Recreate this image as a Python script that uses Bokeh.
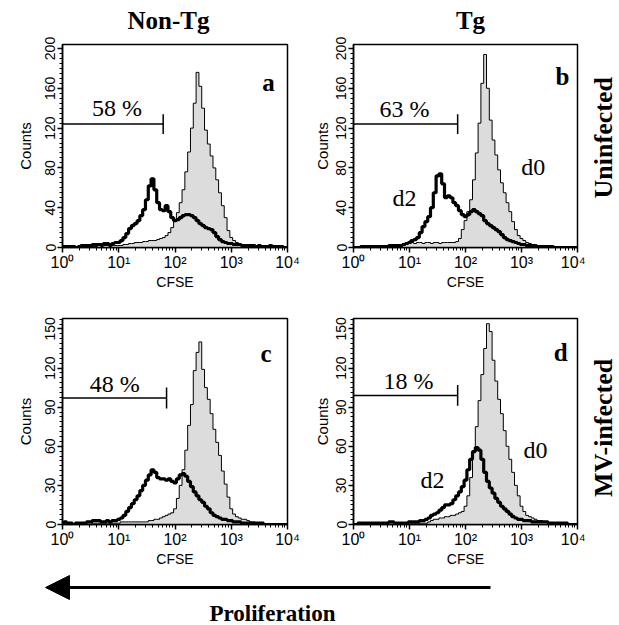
import numpy as np
from bokeh.plotting import figure
from bokeh.models import Range1d, FixedTicker, Label, Arrow, NormalHead
from bokeh.layouts import column, row
from bokeh.embed import file_html
from bokeh.resources import INLINE

# ---------------- data ----------------
# log10(CFSE) channel centres
log_cfse = [0.00, 0.05, 0.10, 0.15, 0.20, 0.25, 0.30, 0.35, 0.40, 0.45,
            0.50, 0.55, 0.60, 0.65, 0.70, 0.75, 0.80, 0.85, 0.90, 0.95,
            1.00, 1.05, 1.10, 1.15, 1.20, 1.25, 1.30, 1.35, 1.40, 1.45,
            1.50, 1.55, 1.60, 1.65, 1.70, 1.75, 1.80, 1.85, 1.90, 1.95,
            2.00, 2.05, 2.10, 2.15, 2.20, 2.25, 2.30, 2.35, 2.40, 2.45,
            2.50, 2.55, 2.60, 2.65, 2.70, 2.75, 2.80, 2.85, 2.90, 2.95,
            3.00, 3.05, 3.10, 3.15, 3.20, 3.25, 3.30, 3.35, 3.40, 3.45,
            3.50, 3.55, 3.60, 3.65, 3.70, 3.75, 3.80, 3.85, 3.90, 3.95,
            4.00]

# panel a: Non-Tg, uninfected
a_d0 = [0, 0, 0, 0, 0, 0, 0, 0, 0, 1,
        1, 1, 1, 2, 1, 2, 2, 1, 2, 2,
        2, 2, 3, 3, 4, 4, 5, 5, 5, 6,
        6, 7, 7, 7, 8, 9, 10, 12, 15, 20,
        27, 35, 45, 58, 76, 96, 120, 145, 176, 162,
        140, 118, 104, 92, 80, 68, 55, 42, 30, 17,
        10, 7, 5, 4, 3, 2, 2, 1, 1, 1,
        0, 0, 0, 0, 0, 0, 0, 0, 0, 0,
        0]
a_d2 = [1, 1, 1, 1, 1, 0, 1, 2, 2, 2,
        2, 3, 3, 3, 3, 4, 4, 3, 4, 5,
        5, 7, 10, 14, 19, 22, 24, 27, 32, 38,
        48, 62, 69, 58, 45, 38, 37, 42, 36, 30,
        27, 28, 30, 32, 33, 33, 32, 30, 27, 24,
        22, 20, 19, 18, 15, 11, 8, 6, 5, 4,
        4, 3, 3, 3, 2, 2, 2, 2, 2, 1,
        2, 1, 1, 1, 2, 1, 1, 1, 1, 0,
        0]

# panel b: Tg, uninfected
b_d0 = [0, 0, 0, 0, 0, 0, 0, 0, 0, 0,
        0, 0, 0, 1, 2, 2, 2, 2, 4, 4,
        4, 5, 4, 5, 5, 4, 5, 5, 4, 5,
        5, 4, 5, 5, 5, 5, 5, 6, 9, 18,
        27, 36, 48, 68, 95, 125, 165, 194, 160, 128,
        108, 93, 78, 65, 55, 45, 36, 26, 18, 12,
        9, 7, 5, 4, 3, 3, 2, 2, 1, 1,
        0, 0, 0, 0, 0, 0, 0, 0, 0, 0,
        0]
b_d2 = [0, 0, 0, 1, 1, 1, 1, 1, 1, 1,
        1, 1, 1, 2, 2, 2, 2, 2, 3, 4,
        5, 7, 8, 10, 15, 21, 26, 31, 40, 55,
        72, 74, 64, 50, 52, 50, 45, 42, 37, 33,
        31, 33, 36, 38, 36, 34, 32, 27, 24, 22,
        20, 18, 16, 13, 10, 8, 7, 6, 5, 4,
        3, 3, 2, 2, 2, 1, 1, 1, 1, 1,
        1, 1, 0, 0, 0, 0, 0, 0, 0, 0,
        0]

# panel c: Non-Tg, MV-infected
c_d0 = [0, 0, 0, 0, 0, 0, 0, 0, 0, 0,
        0, 1, 1, 1, 1, 1, 1, 1, 1, 1,
        1, 2, 2, 2, 2, 2, 2, 2, 2, 2,
        2, 3, 3, 4, 4, 5, 6, 7, 8, 9,
        12, 20, 30, 42, 57, 76, 92, 118, 132, 140,
        119, 105, 96, 85, 73, 63, 53, 41, 31, 21,
        12, 8, 6, 5, 4, 4, 3, 2, 2, 1,
        1, 0, 0, 0, 0, 0, 0, 0, 0, 0,
        0]
c_d2 = [1, 2, 1, 1, 0, 1, 1, 1, 1, 2,
        2, 3, 3, 3, 2, 2, 3, 2, 3, 3,
        4, 5, 7, 10, 13, 16, 19, 22, 26, 30,
        34, 38, 42, 40, 36, 35, 35, 34, 35, 33,
        32, 35, 38, 39, 37, 33, 29, 25, 22, 19,
        17, 14, 12, 9, 7, 6, 5, 4, 4, 3,
        3, 2, 2, 2, 1, 1, 1, 1, 1, 1,
        1, 1, 0, 0, 0, 0, 0, 0, 0, 0,
        0]

# panel d: Tg, MV-infected
d_d0 = [0, 0, 0, 0, 0, 0, 0, 0, 0, 0,
        0, 0, 0, 0, 0, 0, 0, 1, 1, 1,
        1, 1, 1, 1, 1, 1, 1, 2, 3, 4,
        4, 5, 5, 6, 6, 7, 7, 8, 9, 10,
        14, 22, 36, 55, 75, 95, 115, 135, 154, 148,
        126, 110, 96, 85, 72, 60, 50, 40, 30, 22,
        14, 10, 7, 6, 5, 4, 3, 3, 2, 2,
        1, 1, 0, 0, 0, 0, 0, 0, 0, 0,
        0]
d_d2 = [0, 0, 1, 1, 1, 1, 1, 1, 1, 1,
        1, 1, 1, 2, 2, 1, 1, 1, 1, 1,
        2, 2, 2, 2, 3, 3, 4, 5, 7, 8,
        9, 11, 13, 15, 15, 16, 19, 22, 25, 29,
        34, 42, 50, 56, 59, 57, 50, 40, 33, 28,
        24, 20, 17, 14, 12, 10, 8, 6, 5, 4,
        4, 3, 3, 3, 2, 2, 2, 2, 2, 2,
        1, 1, 1, 1, 1, 1, 1, 0, 0, 0,
        0]

panel_letters = ["a", "b", "c", "d"]
gate_text = ["58 %", "63 %", "48 %", "18 %"]
gate_level = [124, 124, 97, 99]
gate_end_log = [1.79, 1.86, 1.85, 1.86]
column_titles = ["Non-Tg", "Tg"]
row_titles = ["Uninfected", "MV-infected"]
x_tick_labels = ["10\u2070", "10\u00b9", "10\u00b2", "10\u00b3", "10\u2074"]
top_yticks = [0, 40, 80, 120, 160, 200]
bottom_yticks = [0, 30, 60, 90, 120, 150]

SANS = "Liberation Sans"
SERIF = "Liberation Serif"

x_vals = 10 ** np.array(log_cfse)


def blank_fig(w, h):
    f = figure(width=w, height=h, x_range=Range1d(0, w), y_range=Range1d(0, h),
               output_backend="svg", toolbar_location=None, min_border=0)
    f.axis.visible = False
    f.grid.visible = False
    f.outline_line_color = None
    f.background_fill_color = "white"
    f.border_fill_color = "white"
    return f


def make_panel(d0, d2, ymax, yticks, width, height, bl, br, bt, bb, ylab_standoff):
    p = figure(width=width, height=height, x_axis_type="log",
               x_range=Range1d(1, 1e4), y_range=Range1d(0, ymax),
               output_backend="svg", toolbar_location=None,
               min_border_left=bl, min_border_right=br,
               min_border_top=bt, min_border_bottom=bb)
    p.grid.visible = False
    p.outline_line_color = "black"
    p.outline_line_width = 1.5
    p.outline_line_alpha = 1
    p.background_fill_color = "white"
    p.border_fill_color = "white"

    p.varea_step(x=x_vals, y1=np.zeros(len(x_vals)), y2=d0, step_mode="center",
                 fill_color="#dcdcdc")
    p.step(x_vals, d0, mode="center", line_color="black", line_width=1)
    p.step(x_vals, d2, mode="center", line_color="black", line_width=3.2)

    major = [1, 10, 100, 1000, 10000]
    minor = [k * 10 ** n for n in range(4) for k in range(2, 10)]
    p.xaxis.ticker = FixedTicker(ticks=major, minor_ticks=minor)
    p.xaxis.major_label_overrides = {m: lab for m, lab in zip(major, x_tick_labels)}
    p.xaxis.axis_label = "CFSE"
    step = (yticks[1] - yticks[0]) / 8
    ym = [i * step for i in range(int(ymax / step) + 1)]
    p.yaxis.ticker = FixedTicker(ticks=yticks, minor_ticks=ym)
    p.yaxis.axis_label = "Counts"
    p.yaxis.major_label_orientation = "vertical"

    for ax in (p.xaxis[0], p.yaxis[0]):
        ax.axis_line_width = 1.5
        ax.major_tick_line_width = 1.5
        ax.minor_tick_line_width = 1
        ax.major_tick_out = 5
        ax.major_tick_in = 0
        ax.minor_tick_out = 3
        ax.minor_tick_in = 0
        ax.major_label_text_font = SANS
        ax.major_label_text_color = "black"
        ax.axis_label_text_font = SANS
        ax.axis_label_text_font_style = "normal"
        ax.axis_label_text_color = "black"
    p.xaxis.major_label_text_font_size = "16px"
    p.xaxis.axis_label_text_font_size = "14px"
    p.yaxis.major_label_text_font_size = "14px"
    p.yaxis.axis_label_text_font_size = "15px"
    p.xaxis.major_label_standoff = 1
    p.xaxis.axis_label_standoff = 0
    p.yaxis.major_label_standoff = 2
    p.yaxis.axis_label_standoff = ylab_standoff
    return p


def add_text(p, x, y, text, size, bold=False, angle=0.0):
    p.add_layout(Label(x=x, y=y, text=text, text_font=SERIF,
                       text_font_size=size,
                       text_font_style="bold" if bold else "normal",
                       text_align="center", text_baseline="middle",
                       angle=angle, text_color="black"))


def add_gate(p, i, lx_text, y_text, half):
    lvl = gate_level[i]
    xe = 10 ** gate_end_log[i]
    p.segment(x0=[1], y0=[lvl], x1=[xe], y1=[lvl], line_color="black", line_width=1.5)
    p.segment(x0=[xe], y0=[lvl - half], x1=[xe], y1=[lvl + half],
              line_color="black", line_width=1.5)
    add_text(p, 10 ** lx_text, y_text, gate_text[i], "24px")


TOP_MAX = 204
BOT_MAX = 158

# header with column titles
header = blank_fig(619, 34)
add_text(header, 168, 14, column_titles[0], "25px", bold=True)
add_text(header, 470, 14, column_titles[1], "25px", bold=True)

pa = make_panel(a_d0, a_d2, TOP_MAX, top_yticks, 308, 259, 62, 21, 10, 46, 9)
pb = make_panel(b_d0, b_d2, TOP_MAX, top_yticks, 277, 259, 45, 8, 10, 46, 3)
pc = make_panel(c_d0, c_d2, BOT_MAX, bottom_yticks, 308, 277, 62, 21, 25, 46, 9)
pd = make_panel(d_d0, d_d2, BOT_MAX, bottom_yticks, 277, 277, 45, 8, 25, 46, 3)

side1 = blank_fig(34, 259)
add_text(side1, 18, 140, row_titles[0], "26px", bold=True, angle=np.pi / 2)
side2 = blank_fig(34, 277)
add_text(side2, 18, 130, row_titles[1], "26px", bold=True, angle=np.pi / 2)

add_gate(pa, 0, 0.97, 140, 10)
add_gate(pb, 1, 0.91, 139, 10)
add_gate(pc, 2, 0.93, 108, 8)
add_gate(pd, 3, 0.98, 110, 8)

add_text(pa, 10 ** 3.66, 166, panel_letters[0], "25px", bold=True)
add_text(pb, 10 ** 3.73, 172, panel_letters[1], "25px", bold=True)
add_text(pc, 10 ** 3.62, 131, panel_letters[2], "25px", bold=True)
add_text(pd, 10 ** 3.70, 132, panel_letters[3], "25px", bold=True)

add_text(pb, 10 ** 3.21, 81, "d0", "24px")
add_text(pb, 10 ** 0.91, 50, "d2", "24px")
add_text(pd, 10 ** 3.25, 57, "d0", "24px")
add_text(pd, 10 ** 1.41, 34, "d2", "24px")

# bottom strip: arrow + Proliferation
pbot = blank_fig(619, 55)
pbot.add_layout(Arrow(x_start=490, y_start=38, x_end=45, y_end=38, line_width=3,
                      line_color="black",
                      end=NormalHead(size=24, fill_color="black", line_color="black")))
add_text(pbot, 272, 12, "Proliferation", "23px", bold=True)

layout = column(header, row(pa, pb, side1), row(pc, pd, side2), pbot)

with open("out.html", "w") as f:
    f.write(file_html(layout, INLINE))
